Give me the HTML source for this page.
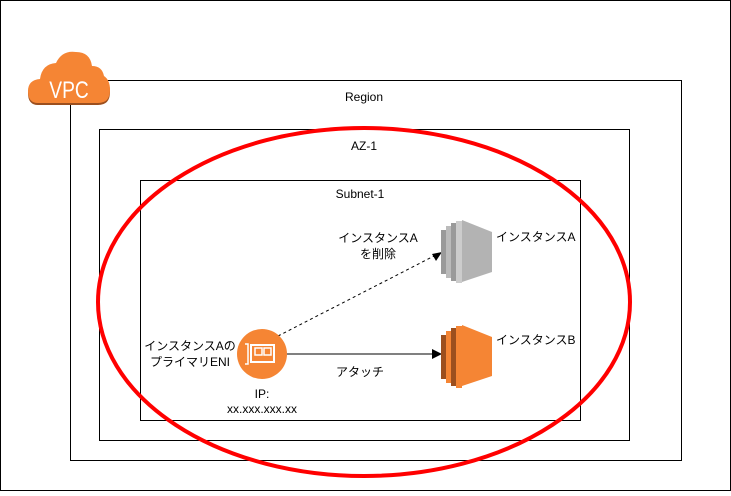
<!DOCTYPE html>
<html><head><meta charset="utf-8"><style>
body{margin:0;background:#fff}
svg text{font-family:"Liberation Sans","Noto Sans CJK JP",sans-serif;font-size:12px;fill:#000}
</style></head><body>
<svg width="731" height="491" viewBox="0 0 731 491" xmlns="http://www.w3.org/2000/svg">
<rect x="0.5" y="0.5" width="730" height="490" fill="#fff" stroke="#000"/>
<rect x="70.5" y="80.5" width="611" height="380" fill="none" stroke="#000"/>
<rect x="99.5" y="129.5" width="530" height="311" fill="none" stroke="#000"/>
<rect x="140.5" y="180.5" width="440" height="240" fill="none" stroke="#000"/>
<text x="364" y="101" text-anchor="middle">Region</text>
<text x="364" y="150" text-anchor="middle">AZ-1</text>
<text x="360" y="198" text-anchor="middle">Subnet-1</text>
<g fill="#F58534">
<path d="M38 103 Q28 103 28 91 Q28 80 40 79 Q42 64 56 63 Q62 50 76 52 Q90 52 92 66 Q102 66 104 76 Q110 80 110 90 Q110 103 98 103 Z" fill="#9c4f1e" transform="translate(0,2)"/>
<path d="M38 103 Q28 103 28 91 Q28 80 40 79 Q42 64 56 63 Q62 50 76 52 Q90 52 92 66 Q102 66 104 76 Q110 80 110 90 Q110 103 98 103 Z"/>
</g>
<text x="0" y="0" text-anchor="middle" transform="translate(69,98) scale(0.8,1)" style="font-size:24px;fill:#fff">VPC</text>
<line x1="278" y1="336" x2="436" y2="255" stroke="#000" stroke-dasharray="3,3"/>
<polygon points="442,252 432,254 436,261" fill="#000"/>
<line x1="287" y1="354" x2="433" y2="354" stroke="#000"/>
<polygon points="442,354 432,349 432,359" fill="#000"/>
<circle cx="262" cy="354" r="25" fill="#F58534"/>
<path d="M245 344 h3 v20 h-3" fill="none" stroke="#fff" stroke-width="1.5"/>
<rect x="251" y="345" width="23" height="17" fill="none" stroke="#fff" stroke-width="2"/>
<rect x="255" y="348" width="7" height="7" fill="none" stroke="#fff" stroke-width="1.5"/>
<rect x="264" y="348" width="7" height="7" fill="none" stroke="#fff" stroke-width="1.5"/>
<g>
<rect x="441" y="230" width="5" height="44" fill="#9a9a9a"/>
<rect x="446" y="226" width="5" height="52" fill="#bbb"/>
<rect x="451" y="223" width="5" height="58" fill="#9a9a9a"/>
<rect x="456" y="221" width="6" height="62" fill="#ccc"/>
<polygon points="462,220 492,232 492,272 462,282" fill="#b3b3b3"/>
</g>
<g>
<rect x="441" y="335" width="5" height="44" fill="#9c4f1e"/>
<rect x="446" y="331" width="5" height="52" fill="#F58534"/>
<rect x="451" y="328" width="5" height="58" fill="#9c4f1e"/>
<rect x="456" y="326" width="6" height="62" fill="#F58534"/>
<polygon points="462,325 492,337 492,376 462,386" fill="#F58534"/>
</g>
<text x="496" y="241">インスタンスA</text>
<text x="496" y="344">インスタンスB</text>
<text x="378" y="242" text-anchor="middle">インスタンスA</text>
<text x="378" y="258" text-anchor="middle">を削除</text>
<text x="190" y="350" text-anchor="middle">インスタンスAの</text>
<text x="190" y="366" text-anchor="middle">プライマリENI</text>
<text x="360" y="376" text-anchor="middle">アタッチ</text>
<text x="262" y="398" text-anchor="middle">IP:</text>
<text x="262" y="413" text-anchor="middle">xx.xxx.xxx.xx</text>
<ellipse cx="364" cy="302" rx="266" ry="174" fill="none" stroke="#f00" stroke-width="4"/>
</svg>
</body></html>
